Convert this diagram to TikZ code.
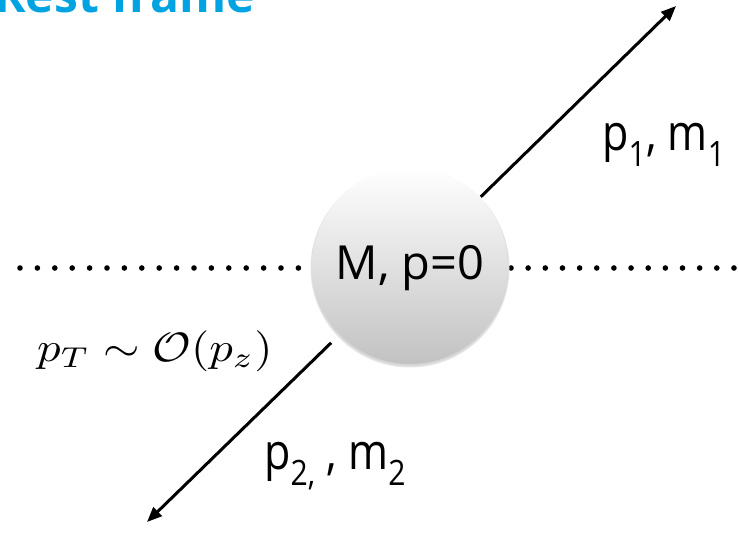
\documentclass[tikz,border=0pt]{standalone}
\usepackage{fontspec}
\usepackage{graphicx}
\setmainfont{Open Sans}
\usetikzlibrary{arrows.meta}
\definecolor{titleblue}{HTML}{00A3E2}
\tikzset{
  arr/.style={line width=3pt, -{Triangle[length=15pt,width=12pt]}},
  dotrow/.style={fill=black},
  lbl/.style={inner sep=0pt, anchor=base west, font=\fontsize{50}{60}\selectfont},
}
\newcommand{\narrow}[1]{\scalebox{0.86}[1]{#1}}
\begin{document}
\begin{tikzpicture}[x=1pt,y=-1pt]
\useasboundingbox (0,0) rectangle (739,543);
% title (cut off at top)
\node[anchor=base west, inner sep=0pt, text=titleblue, font=\fontsize{48}{56}\selectfont\bfseries] (title) at (-6,13) {Rest frame};
% dotted line
\foreach \i in {0,...,16} \fill[dotrow] (20+\i*17.4,268) circle (2.8);
\foreach \i in {0,...,13} \fill[dotrow] (511+\i*17.15,268) circle (2.8);
% circle
\fill[black!10] (410,268) circle (99.5);
\fill[black!16] (410,267.5) circle (98.5);
\node[circle, minimum size=196pt, inner sep=0pt, top color=white, bottom color=black!24] (M) at (410,266) {};
\node[inner sep=0pt, anchor=base, font=\fontsize{47}{56}\selectfont] (Mt) at (410,279) {M, p=0};
% arrows
\coordinate (t1) at (676,6);
\coordinate (t2) at (147,522);
\draw[arr, shorten <=99pt] (M.center) -- (t1);
\draw[arr, shorten <=110pt] (M.center) -- (t2);
% labels
\node[lbl] (l1) at (602,150) {\narrow{p\textsubscript{1}, m\textsubscript{1}}};
\node[lbl] (l2) at (264,469) {\narrow{p\textsubscript{2,} , m\textsubscript{2}}};
\node[anchor=base west, inner sep=0pt] (pt) at (37,361) {\scalebox{4.68}[4.1]{$p_T \sim \mathcal{O}(p_z)$}};
\end{tikzpicture}
\end{document}
